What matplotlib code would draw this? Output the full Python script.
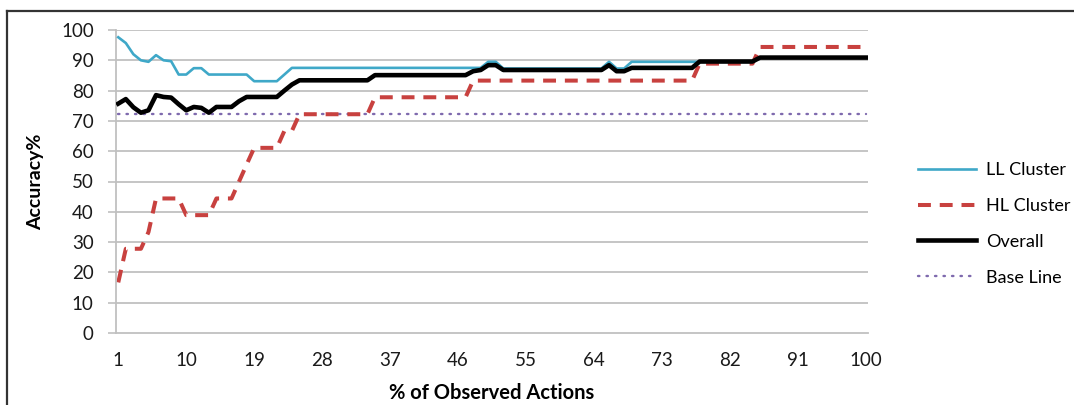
import matplotlib
matplotlib.use("Agg")
import matplotlib.pyplot as plt
from matplotlib.lines import Line2D

plt.rcParams['font.family'] = ['Lato', 'DejaVu Sans']

# Percentage of observed actions (categories 1..100)
actions = list(range(1, 101))
tick_positions = [1, 10, 19, 28, 37, 46, 55, 64, 73, 82, 91, 100]

ll_cluster = (
    [97.6, 95.7, 92.0, 90.0, 89.5, 91.7, 90.0, 89.7, 85.3, 85.3,
     87.4, 87.4, 85.3, 85.3, 85.3, 85.3, 85.3, 85.3, 83.1, 83.1,
     83.1, 83.1, 85.3, 87.5]
    + [87.5] * 25          # 25..49
    + [89.5, 89.5]         # 50..51
    + [87.3] * 14          # 52..65
    + [89.5, 87.3, 87.3]   # 66..68
    + [89.5] * 17          # 69..85
    + [90.9] * 15          # 86..100
)

hl_cluster = (
    [16.7, 27.8, 27.8, 27.8, 33.3, 44.4, 44.4, 44.4, 44.4, 38.9,
     38.9, 38.9, 38.9, 44.4, 44.4, 44.4, 50.0, 55.6, 61.1, 61.1,
     61.1, 61.1, 66.7, 66.7]
    + [72.2] * 10          # 25..34
    + [77.8] * 13          # 35..47
    + [83.3] * 30          # 48..77
    + [88.9] * 8           # 78..85
    + [94.4] * 15          # 86..100
)

overall = (
    [75.7, 77.2, 74.5, 72.7, 73.5, 78.5, 77.9, 77.7, 75.5, 73.5,
     74.6, 74.3, 72.7, 74.6, 74.6, 74.6, 76.5, 77.9, 77.9, 77.9,
     77.9, 77.9, 80.0, 82.0]
    + [83.4] * 10          # 25..34
    + [85.1] * 13          # 35..47
    + [86.4, 86.8, 88.4, 88.4]  # 48..51
    + [86.8] * 14          # 52..65
    + [88.4, 86.4, 86.4]   # 66..68
    + [87.5] * 9           # 69..77
    + [89.6] * 8           # 78..85
    + [90.9] * 15          # 86..100
)

base_line = [72.3] * 100

fig = plt.figure(figsize=(10.74, 4.05), dpi=100)
ax = fig.add_axes([116 / 1074, 1 - 333 / 405, (868 - 116) / 1074, (333 - 30) / 405])

grid_color = '#c0c0c0'
for yv in range(10, 101, 10):
    ax.axhline(yv, color=grid_color, lw=1.3, zorder=0)

ax.plot(actions, ll_cluster, color='#3FA8C8', lw=1.9, label='LL Cluster', zorder=3)
ax.plot(actions, hl_cluster, color='#C8413F', lw=2.9, dashes=(3.2, 2.2),
        label='HL Cluster', zorder=2)
ax.plot(actions, overall, color='black', lw=3.3, label='Overall', zorder=4,
        solid_joinstyle='round')
ax.plot(actions, base_line, color='#7F6AAE', lw=1.7, dashes=(0.6, 3.0),
        dash_capstyle='round', label='Base Line', zorder=1)

ax.set_xlim(0.7, 100.3)
ax.set_ylim(0, 100)
ax.set_yticks(range(0, 101, 10))
ax.set_xticks(tick_positions)
ax.set_xticklabels([str(t) for t in tick_positions])

for side in ('top', 'right'):
    ax.spines[side].set_visible(False)
ax.spines['left'].set_color(grid_color)
ax.spines['left'].set_linewidth(1.3)
ax.spines['bottom'].set_color(grid_color)
ax.spines['bottom'].set_linewidth(1.3)

ax.tick_params(axis='y', length=6, width=1.2, color=grid_color, labelsize=13.5,
               pad=10, labelcolor='#1a1a1a')
ax.tick_params(axis='x', length=0, labelsize=13.5, pad=14, labelcolor='#1a1a1a')

ax.set_ylabel('Accuracy%', fontsize=14, fontweight='bold', labelpad=12)
ax.set_xlabel('% of Observed Actions', fontsize=14.5, fontweight='bold', labelpad=10)

fig.legend(loc='upper left', bbox_to_anchor=(918 / 1074, 1 - 162 / 405),
           frameon=False, fontsize=13, handlelength=3.2, handletextpad=0.55,
           labelspacing=1.1, borderpad=0, borderaxespad=0)

# Outer frame along the left and top edges
fig.add_artist(Line2D([7 / 1074, 7 / 1074], [0, 1 - 11 / 405],
                      transform=fig.transFigure, color='#333333', lw=1.6))
fig.add_artist(Line2D([7 / 1074, 1], [1 - 11 / 405, 1 - 11 / 405],
                      transform=fig.transFigure, color='#333333', lw=1.6))

fig.savefig('out.png', dpi=100)
